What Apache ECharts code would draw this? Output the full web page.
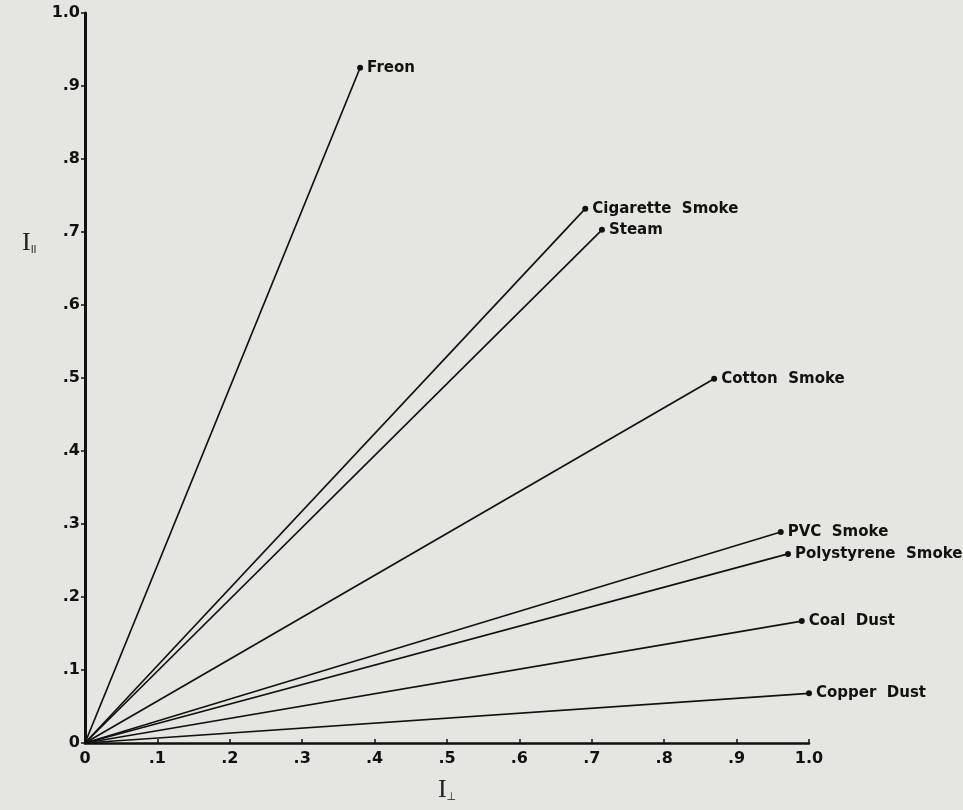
<!DOCTYPE html>
<html>
<head>
<meta charset="utf-8">
<script src="https://cdn.jsdelivr.net/npm/echarts@6/dist/echarts.min.js"></script>
<style>
html,body{margin:0;padding:0;background:#e5e5e1;}
#c{width:963px;height:810px;}
</style>
</head>
<body>
<div id="c"></div>
<script>
const names = ['Freon','Cigarette  Smoke','Steam','Cotton  Smoke','PVC  Smoke','Polystyrene  Smoke','Coal  Dust','Copper  Dust'];
const iPerp = [0.380, 0.691, 0.714, 0.869, 0.961, 0.971, 0.990, 1.000];
const iPar  = [0.925, 0.732, 0.703, 0.499, 0.289, 0.259, 0.167, 0.068];
const tickLabels = ['0','.1','.2','.3','.4','.5','.6','.7','.8','.9','1.0'];

const chart = echarts.init(document.getElementById('c'));
const font = '"DejaVu Sans", sans-serif';

const series = names.map((n, i) => ({
  type: 'line',
  name: n,
  data: [
    {value: [0, 0], symbolSize: 0, label: {show: false}},
    {value: [iPerp[i], iPar[i]]}
  ],
  symbol: 'circle',
  symbolSize: 6,
  showAllSymbol: true,
  itemStyle: {color: '#111'},
  lineStyle: {color: '#111', width: 1.7},
  label: {
    show: true,
    position: 'right',
    distance: 4,
    formatter: n,
    color: '#111',
    fontFamily: font,
    fontSize: 15,
    fontWeight: 'bold'
  },
  animation: false,
  silent: true
}));

chart.setOption({
  backgroundColor: '#e5e5e1',
  animation: false,
  grid: {left: 85, right: 154, top: 13, bottom: 67, containLabel: false},
  xAxis: {
    type: 'value', min: 0, max: 1, interval: 0.1,
    splitLine: {show: false},
    axisLine: {show: true, onZero: false, lineStyle: {color: '#111', width: 2.5}},
    axisTick: {show: true, inside: true, length: 4, lineStyle: {color: '#111', width: 1.5}},
    axisLabel: {
      formatter: v => tickLabels[Math.round(v * 10)],
      color: '#111', fontFamily: font, fontSize: 16, fontWeight: 'bold', margin: 8
    },
    name: '{a|I}{b|⊥}',
    nameLocation: 'middle',
    nameGap: 34,
    nameTextStyle: {
      rich: {
        a: {fontFamily: '"Liberation Serif", serif', fontSize: 26, color: '#222'},
        b: {fontFamily: '"DejaVu Sans", sans-serif', fontSize: 11, color: '#222', verticalAlign: 'bottom', padding: [14, 0, 0, 0]}
      }
    }
  },
  yAxis: {
    type: 'value', min: 0, max: 1, interval: 0.1,
    splitLine: {show: false},
    axisLine: {show: true, onZero: false, lineStyle: {color: '#111', width: 3}},
    axisTick: {show: true, inside: false, length: 4, lineStyle: {color: '#111', width: 1.5}},
    axisLabel: {
      formatter: v => tickLabels[Math.round(v * 10)],
      color: '#111', fontFamily: font, fontSize: 16, fontWeight: 'bold', margin: 5
    }
  },
  graphic: [{
    type: 'text',
    left: 22, top: 230,
    style: {
      text: '{a|I}{b|II}',
      rich: {
        a: {fontFamily: '"Liberation Serif", serif', fontSize: 26, fill: '#222'},
        b: {fontFamily: '"DejaVu Sans", sans-serif', fontSize: 10, fill: '#222', padding: [14, 0, 0, 0]}
      }
    }
  }],
  series: series
});
</script>
</body>
</html>
